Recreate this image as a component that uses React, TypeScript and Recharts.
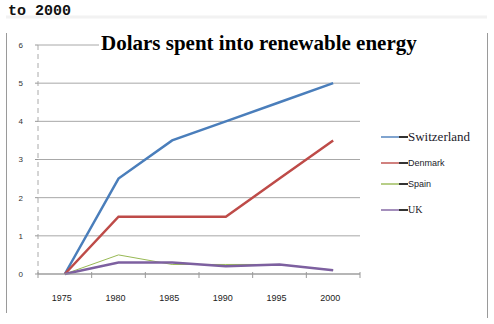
import React from 'react';
import { LineChart, Line, XAxis, YAxis, CartesianGrid } from 'recharts';

const YEARS = [1975, 1980, 1985, 1990, 1995, 2000];
const SWITZERLAND = [0, 2.5, 3.5, 4, 4.5, 5];
const DENMARK = [0, 1.5, 1.5, 1.5, 2.5, 3.5];
const SPAIN = [0, 0.5, 0.25, 0.25, 0.25, 0.1];
const UK = [0, 0.3, 0.3, 0.2, 0.25, 0.1];
const Y_TICKS = [0, 1, 2, 3, 4, 5, 6];
// label ticks at the years, tick marks on the half-way boundaries (Excel style)
const X_TICKS = [1972.5, 1975, 1977.5, 1980, 1982.5, 1985, 1987.5, 1990, 1992.5, 1995, 1997.5, 2000, 2002.5];

const data = YEARS.map((year, i) => ({
  year,
  Switzerland: SWITZERLAND[i],
  Denmark: DENMARK[i],
  Spain: SPAIN[i],
  UK: UK[i],
}));

const SERIES = [
  { key: 'Switzerland', color: '#4a7ebb', width: 2.5 },
  { key: 'Denmark', color: '#be4b48', width: 2.5 },
  { key: 'Spain', color: '#98b954', width: 1 },
  { key: 'UK', color: '#7d60a0', width: 2.5 },
];

const LEGEND_FONT: Record<string, React.CSSProperties> = {
  Switzerland: { fontFamily: '"Liberation Serif", serif', fontSize: 13 },
  Denmark: { fontFamily: '"Liberation Sans", sans-serif', fontSize: 9 },
  Spain: { fontFamily: '"Liberation Sans", sans-serif', fontSize: 9 },
  UK: { fontFamily: '"Liberation Serif", serif', fontSize: 10 },
};
const LEGEND_TOPS = [130, 156, 177, 203];

const XTick = (props: any) => {
  const { x, y, payload } = props;
  if (payload.value % 5 === 0) {
    return (
      <text x={x - 3} y={y + 27} textAnchor="middle" fontSize={9} fill="#222"
        fontFamily='"Liberation Sans", sans-serif'>
        {payload.value}
      </text>
    );
  }
  return <line x1={x} x2={x} y1={y - 2} y2={y + 4} stroke="#999" />;
};

export default function App() {
  return (
    <div style={{ position: 'absolute', left: 0, top: 0, width: 494, height: 324, background: '#fff', overflow: 'hidden' }}>
      <svg width={494} height={324} style={{ position: 'absolute', left: 0, top: 0 }}>
        <line x1={6} x2={487} y1={17} y2={17} stroke="#f2f2f2" strokeWidth={3} />
        <line x1={6.5} x2={6.5} y1={33} y2={313} stroke="#9a9a9a" />
        <line x1={487.5} x2={487.5} y1={33} y2={318} stroke="#9a9a9a" />
      </svg>
      <div style={{ position: 'absolute', left: 0, top: 0 }}>
        <LineChart width={494} height={324} data={data} margin={{ top: 45, right: 134, bottom: 20, left: 8 }}>
          <CartesianGrid vertical={false} stroke="#a8a8a8" />
          <XAxis dataKey="year" type="number" domain={[1972.5, 2002.5]} ticks={X_TICKS} interval={0}
            tick={<XTick />} tickLine={false} tickSize={0} tickMargin={0} height={30}
            axisLine={{ stroke: '#999' }} />
          <YAxis domain={[0, 6]} ticks={Y_TICKS} width={30} tickSize={3} tickMargin={12}
            tick={{ fontSize: 8, fill: '#333', fontFamily: '"Liberation Sans", sans-serif' }}
            tickLine={{ stroke: '#999' }} axisLine={{ stroke: '#aaa', strokeDasharray: '5 4' }} />
          {SERIES.map((s) => (
            <Line key={s.key} dataKey={s.key} stroke={s.color} strokeWidth={s.width} dot={false}
              type="linear" isAnimationActive={false} />
          ))}
        </LineChart>
      </div>
      {SERIES.map((s, i) => (
        <div key={s.key} style={{ position: 'absolute', left: 381, top: LEGEND_TOPS[i],
          display: 'flex', alignItems: 'center', color: '#221a2a', lineHeight: '14px', whiteSpace: 'nowrap' }}>
          <span style={{ display: 'inline-block', width: 18, height: 2, background: s.color, opacity: 0.7 }} />
          <span style={{ display: 'inline-block', width: 9, height: 1.5, background: '#333' }} />
          <span style={LEGEND_FONT[s.key]}>{s.key}</span>
        </div>
      ))}
      <div style={{ position: 'absolute', left: 8, top: 3, fontFamily: '"Liberation Mono", monospace',
        fontWeight: 'bold', fontSize: 15, lineHeight: '18px', color: '#111' }}>
        to 2000
      </div>
      <div style={{ position: 'absolute', left: 99, top: 33, fontFamily: '"Liberation Serif", serif',
        fontWeight: 'bold', fontSize: 21, lineHeight: '20px', color: '#000', background: '#fff', padding: '0 2px' }}>
        Dolars spent into renewable energy
      </div>
    </div>
  );
}
